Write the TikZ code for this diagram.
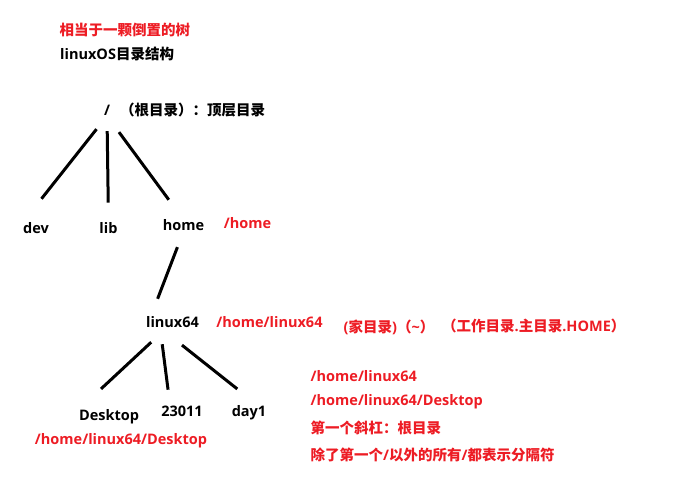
\documentclass[tikz,border=0pt]{standalone}
\usepackage{fontspec}
\setmainfont{Open Sans}
\newfontfamily\cjk{Noto Sans CJK SC}
\newcommand{\zh}[1]{{\cjk #1}}
\definecolor{notered}{RGB}{237,28,36}
\begin{document}
\begin{tikzpicture} [
                x=1pt, y=-1pt,
                dirname/.style={inner sep=0pt,font=\fontsize{14.5}{17}\selectfont\bfseries},
                dirpath/.style={dirname,text=notered},
                branch/.style={draw,line width=3pt,-},
            ]
            \useasboundingbox (0,0) rectangle (689,482);
            % Titles on top
            \node[dirpath,anchor=west] (title) at (59.5,30) {\zh{相当于一颗倒置的树}};
            \node[dirname,anchor=west] (subtitle) at (60,53.5) {linuxOS\zh{目录结构}};
            % First we draw the directories
            \node[dirname] (root) at (107,110.5) {/};
            \node[dirname,anchor=west] (rootnote) at (120,110.5) {\zh{（根目录）：顶层目录}};
            \foreach \pos/\name/\txt in {
                    {(36,228)/dev/dev},
                    {(108.5,228)/lib/lib},
                    {(183.5,225.5)/home/home},
                    {(172.5,322)/linux64/linux64},
                    {(109,417)/desktop/Desktop},
                    {(182,411.5)/num/23011},
                    {(249,412.5)/day/day1}}
                \node[dirname] (\name) at \pos {\txt};
            % Paths written in red
            \node[dirpath] (homepath) at (247.5,223.5) {/home};
            \node[dirpath] (userpath) at (269.5,322.5) {/home/linux64};
            \node[dirpath,anchor=west] (usernote) at (343.5,327) {(\zh{家目录})\zh{（}\textasciitilde\zh{）}};
            \node[dirpath,anchor=west] (worknote) at (442,326) {\zh{（工作目录}.\zh{主目录}.HOME\zh{）}};
            \node[dirpath] (desktoppath) at (121,441) {/home/linux64/Desktop};
            \foreach \y/\name/\txt in {
                    376/lineone/{/home/linux64},
                    402/linetwo/{/home/linux64/Desktop},
                    428/linethree/{\zh{第一个斜杠：根目录}},
                    454.5/linefour/{\zh{除了第一个}/\zh{以外的所有}/\zh{都表示分隔符}}}
                \node[dirpath,anchor=west] (\name) at (310.5,\y) {\txt};
            % Connect directories with branches
            \foreach \src/\dst/\sa/\sb in {
                    root.south/dev.north west/16.9/29.9,
                    root.south/lib.north/15.3/19.5,
                    root.south/home.north/20.2/24.8,
                    home.south/linux64.165/17/18.7,
                    linux64.-135/desktop.north west/21.2/30.3,
                    linux64.-155/num.155/16.6/16.4,
                    linux64.-155/day.41/27.9/25.9}
                \path[branch,shorten <=\sa pt,shorten >=\sb pt] (\src) -- (\dst);
        \end{tikzpicture}
\end{document}
